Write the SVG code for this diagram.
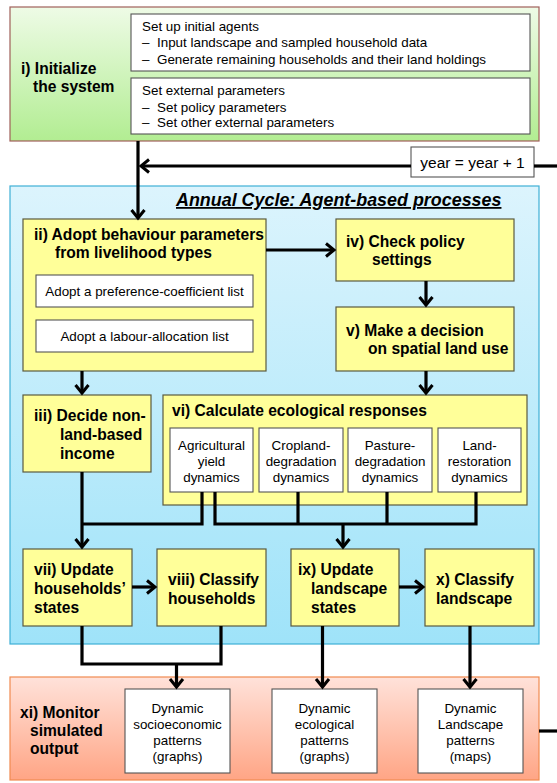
<svg xmlns="http://www.w3.org/2000/svg" width="557" height="783" viewBox="0 0 557 783">
<style>
.b{font-family:"Liberation Sans",Arial,sans-serif;font-weight:bold;font-size:15.6px;fill:#000}
.r{font-family:"Liberation Sans",Arial,sans-serif;font-size:13.4px;fill:#000}
.c{text-anchor:middle}
.yr{font-size:15.5px}
.yel{fill:#ffff99;stroke:#5a5a40;stroke-width:1.2}
.wht{fill:#fff;stroke:#555;stroke-width:1.1}
.conn path{stroke:#000;stroke-width:3.2;fill:none}
.arr{marker-end:url(#ah)}
</style>
<defs>
<marker id="ah" markerUnits="userSpaceOnUse" viewBox="-12 -9 14 18" markerWidth="14" markerHeight="18" refX="0" refY="0" orient="auto" overflow="visible">
<path d="M-8,-6.5 L0,0 L-8,6.5" fill="none" stroke="#000" stroke-width="3"/>
</marker>
<linearGradient id="gGreen" x1="0" y1="0" x2="0" y2="1"><stop offset="0" stop-color="#eefbe6"/><stop offset="1" stop-color="#b2ed92"/></linearGradient>
<linearGradient id="gBlue" x1="0" y1="0" x2="0" y2="1"><stop offset="0" stop-color="#dcf4fd"/><stop offset="1" stop-color="#9fe3f9"/></linearGradient>
<linearGradient id="gSalmon" x1="0" y1="0" x2="0" y2="1"><stop offset="0" stop-color="#ffe2da"/><stop offset="1" stop-color="#ffa585"/></linearGradient>
</defs>

<g id="init">
<rect x="10" y="7" width="529" height="134" fill="url(#gGreen)" stroke="#a0605a" stroke-width="1.2"/>
<text class="b" x="21" y="74">i) Initialize</text>
<text class="b" x="33" y="92">the system</text>
<rect class="wht" x="131" y="14" width="399" height="57"/>
<text class="r" x="142" y="31">Set up initial agents</text>
<text class="r" x="142" y="47">–</text><text class="r" x="157" y="47">Input landscape and sampled household data</text>
<text class="r" x="142" y="64">–</text><text class="r" x="157" y="64">Generate remaining households and their land holdings</text>
<rect class="wht" x="131" y="78" width="399" height="56"/>
<text class="r" x="142" y="95">Set external parameters</text>
<text class="r" x="142" y="112">–</text><text class="r" x="157" y="112">Set policy parameters</text>
<text class="r" x="142" y="127">–</text><text class="r" x="157" y="127">Set other external parameters</text>
</g>

<g id="cycle">
<rect x="10" y="186" width="529" height="458" fill="url(#gBlue)" stroke="#3fb0d6" stroke-width="1.2"/>
<text x="176" y="206" font-family="'Liberation Sans',Arial,sans-serif" font-weight="bold" font-style="italic" font-size="17.9" text-decoration="underline">Annual Cycle: Agent-based processes</text>
</g>

<g id="year">
<rect class="wht" x="411" y="147" width="123" height="30"/>
<text class="r c yr" x="472.5" y="168">year = year + 1</text>
</g>

<g id="node-ii">
<rect class="yel" x="23" y="219" width="243" height="152"/>
<text class="b" x="34" y="240">ii) Adopt behaviour parameters</text>
<text class="b" x="55" y="258">from livelihood types</text>
<rect class="wht" x="36" y="275" width="217" height="32"/>
<text class="r c" x="144.5" y="296">Adopt a preference-coefficient list</text>
<rect class="wht" x="36" y="320" width="217" height="32"/>
<text class="r c" x="144.5" y="341">Adopt a labour-allocation list</text>
</g>

<g id="node-iv">
<rect class="yel" x="336" y="219" width="178" height="62"/>
<text class="b" x="346" y="247">iv) Check policy</text>
<text class="b" x="372" y="265">settings</text>
</g>

<g id="node-v">
<rect class="yel" x="336" y="307" width="178" height="64"/>
<text class="b" x="346" y="336">v) Make a decision</text>
<text class="b" x="368" y="354">on spatial land use</text>
</g>

<g id="node-iii">
<rect class="yel" x="23" y="395" width="128" height="77"/>
<text class="b" x="34" y="421">iii) Decide non-</text>
<text class="b" x="60" y="440">land-based</text>
<text class="b" x="60" y="459">income</text>
</g>

<g id="node-vi">
<rect class="yel" x="163" y="395" width="364" height="110"/>
<text class="b" x="172" y="416">vi) Calculate ecological responses</text>
<rect class="wht" x="170" y="428" width="83" height="64"/>
<text class="r c" x="211.5" y="450">Agricultural</text>
<text class="r c" x="211.5" y="466">yield</text>
<text class="r c" x="211.5" y="482">dynamics</text>
<rect class="wht" x="259" y="428" width="84" height="64"/>
<text class="r c" x="301" y="450">Cropland-</text>
<text class="r c" x="301" y="466">degradation</text>
<text class="r c" x="301" y="482">dynamics</text>
<rect class="wht" x="348" y="428" width="84" height="64"/>
<text class="r c" x="390" y="450">Pasture-</text>
<text class="r c" x="390" y="466">degradation</text>
<text class="r c" x="390" y="482">dynamics</text>
<rect class="wht" x="438" y="428" width="83" height="64"/>
<text class="r c" x="479.5" y="450">Land-</text>
<text class="r c" x="479.5" y="466">restoration</text>
<text class="r c" x="479.5" y="482">dynamics</text>
</g>

<g id="node-vii">
<rect class="yel" x="23" y="549" width="109" height="77"/>
<text class="b" x="34" y="575">vii) Update</text>
<text class="b" x="34" y="594">households’</text>
<text class="b" x="34" y="613">states</text>
</g>

<g id="node-viii">
<rect class="yel" x="157" y="549" width="109" height="77"/>
<text class="b" x="168" y="585">viii) Classify</text>
<text class="b" x="168" y="604">households</text>
</g>

<g id="node-ix">
<rect class="yel" x="291" y="549" width="108" height="77"/>
<text class="b" x="298" y="575">ix) Update</text>
<text class="b" x="311" y="594">landscape</text>
<text class="b" x="311" y="613">states</text>
</g>

<g id="node-x">
<rect class="yel" x="425" y="549" width="109" height="77"/>
<text class="b" x="436" y="585">x) Classify</text>
<text class="b" x="436" y="604">landscape</text>
</g>

<g id="node-xi">
<rect x="10" y="677" width="529" height="103" fill="url(#gSalmon)" stroke="#f08a50" stroke-width="1.2"/>
<text class="b" x="20" y="718">xi) Monitor</text>
<text class="b" x="30" y="736">simulated</text>
<text class="b" x="30" y="754">output</text>
<rect class="wht" x="125" y="689" width="105" height="84"/>
<text class="r c" x="177.5" y="713">Dynamic</text>
<text class="r c" x="177.5" y="729">socioeconomic</text>
<text class="r c" x="177.5" y="745">patterns</text>
<text class="r c" x="177.5" y="761">(graphs)</text>
<rect class="wht" x="272" y="689" width="105" height="84"/>
<text class="r c" x="324.5" y="713">Dynamic</text>
<text class="r c" x="324.5" y="729">ecological</text>
<text class="r c" x="324.5" y="745">patterns</text>
<text class="r c" x="324.5" y="761">(graphs)</text>
<rect class="wht" x="418" y="689" width="105" height="84"/>
<text class="r c" x="470.5" y="713">Dynamic</text>
<text class="r c" x="470.5" y="729">Landscape</text>
<text class="r c" x="470.5" y="745">patterns</text>
<text class="r c" x="470.5" y="761">(maps)</text>
</g>

<g id="connectors" class="conn">
<path class="arr" d="M138,141 V218"/>
<path class="arr" d="M411,166 H141"/>
<path d="M534,166 H557"/>
<path class="arr" d="M266,250 H334"/>
<path class="arr" d="M426,281 V305"/>
<path class="arr" d="M82,371 V393"/>
<path class="arr" d="M426,371 V393"/>
<path class="arr" d="M82,472 V547"/>
<path d="M202,492 V524 H82"/>
<path d="M215,492 V524 H476 V492"/>
<path d="M298,492 V524"/>
<path d="M387,492 V524"/>
<path class="arr" d="M343,524 V547"/>
<path class="arr" d="M132,587 H155"/>
<path class="arr" d="M399,587 H423"/>
<path d="M82,626 V664 H221 V626"/>
<path class="arr" d="M176.5,664 V687"/>
<path class="arr" d="M322.5,626 V687"/>
<path class="arr" d="M470,626 V687"/>
<path d="M539,731 H557"/>
</g>
</svg>
